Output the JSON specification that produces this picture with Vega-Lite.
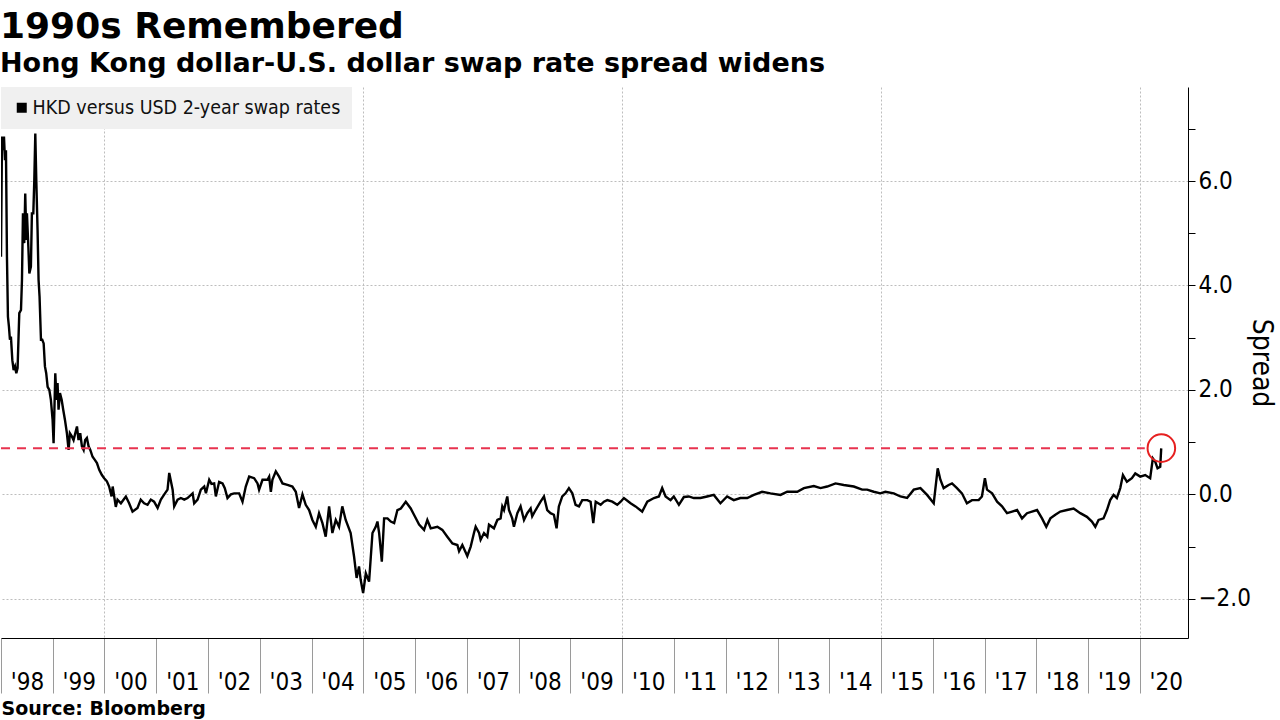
{
  "$schema": "https://vega.github.io/schema/vega-lite/v6.json",
  "width": 1280,
  "height": 720,
  "autosize": {"type": "fit", "contains": "padding"},
  "padding": {"left": 0, "top": 9, "right": 5, "bottom": 2},
  "background": "white",
  "config": {
    "view": {"stroke": null},
    "font": "DejaVu Sans Condensed"
  },
  "title": {
    "text": "1990s Remembered",
    "subtitle": "Hong Kong dollar-U.S. dollar swap rate spread widens",
    "anchor": "start",
    "frame": "bounds",
    "font": "DejaVu Sans",
    "fontSize": 36,
    "fontWeight": "bold",
    "color": "#000000",
    "subtitleFont": "DejaVu Sans",
    "subtitleFontSize": 27,
    "subtitleFontWeight": "bold",
    "subtitleColor": "#000000",
    "subtitlePadding": 5,
    "offset": 9
  },
  "datasets": {
    "series": [
      {"date": "1998-01-01", "spread": 4.55},
      {"date": "1998-01-08", "spread": 6.85},
      {"date": "1998-01-15", "spread": 6.59},
      {"date": "1998-01-22", "spread": 6.85},
      {"date": "1998-01-29", "spread": 6.40},
      {"date": "1998-02-05", "spread": 6.59},
      {"date": "1998-02-12", "spread": 4.55},
      {"date": "1998-02-19", "spread": 3.40},
      {"date": "1998-02-26", "spread": 3.21},
      {"date": "1998-03-05", "spread": 2.96},
      {"date": "1998-03-12", "spread": 3.02},
      {"date": "1998-03-22", "spread": 2.57},
      {"date": "1998-03-31", "spread": 2.38},
      {"date": "1998-04-10", "spread": 2.45},
      {"date": "1998-04-19", "spread": 2.32},
      {"date": "1998-04-28", "spread": 2.42},
      {"date": "1998-05-10", "spread": 3.47},
      {"date": "1998-05-22", "spread": 3.53},
      {"date": "1998-05-29", "spread": 4.11},
      {"date": "1998-06-05", "spread": 5.38},
      {"date": "1998-06-14", "spread": 4.81},
      {"date": "1998-06-21", "spread": 5.76},
      {"date": "1998-06-29", "spread": 4.87},
      {"date": "1998-07-03", "spread": 5.38},
      {"date": "1998-07-13", "spread": 4.74},
      {"date": "1998-07-20", "spread": 4.23},
      {"date": "1998-07-31", "spread": 4.36},
      {"date": "1998-08-07", "spread": 5.38},
      {"date": "1998-08-17", "spread": 5.38},
      {"date": "1998-08-24", "spread": 6.02},
      {"date": "1998-08-31", "spread": 6.91},
      {"date": "1998-09-07", "spread": 6.02},
      {"date": "1998-09-16", "spread": 5.06},
      {"date": "1998-09-23", "spread": 4.11},
      {"date": "1998-09-30", "spread": 3.79},
      {"date": "1998-10-10", "spread": 2.96},
      {"date": "1998-10-19", "spread": 2.96},
      {"date": "1998-10-29", "spread": 2.89},
      {"date": "1998-11-07", "spread": 2.45},
      {"date": "1998-11-16", "spread": 2.32},
      {"date": "1998-11-26", "spread": 2.06},
      {"date": "1998-12-08", "spread": 2.00},
      {"date": "1998-12-19", "spread": 1.81},
      {"date": "1998-12-31", "spread": 1.43},
      {"date": "1999-01-07", "spread": 0.98},
      {"date": "1999-01-19", "spread": 2.32},
      {"date": "1999-01-28", "spread": 1.81},
      {"date": "1999-02-04", "spread": 2.13},
      {"date": "1999-02-11", "spread": 1.62},
      {"date": "1999-02-21", "spread": 1.94},
      {"date": "1999-03-05", "spread": 1.81},
      {"date": "1999-03-16", "spread": 1.62},
      {"date": "1999-03-28", "spread": 1.43},
      {"date": "1999-04-11", "spread": 1.17},
      {"date": "1999-04-23", "spread": 0.85},
      {"date": "1999-05-02", "spread": 1.17},
      {"date": "1999-05-16", "spread": 1.11},
      {"date": "1999-05-28", "spread": 1.04},
      {"date": "1999-06-09", "spread": 1.17},
      {"date": "1999-06-21", "spread": 1.30},
      {"date": "1999-07-02", "spread": 1.04},
      {"date": "1999-07-14", "spread": 1.17},
      {"date": "1999-07-26", "spread": 0.92},
      {"date": "1999-08-07", "spread": 0.85},
      {"date": "1999-08-18", "spread": 1.04},
      {"date": "1999-08-30", "spread": 1.08},
      {"date": "1999-09-11", "spread": 0.92},
      {"date": "1999-09-23", "spread": 0.85},
      {"date": "1999-10-09", "spread": 0.72},
      {"date": "1999-10-25", "spread": 0.66},
      {"date": "1999-11-09", "spread": 0.60},
      {"date": "1999-11-25", "spread": 0.47},
      {"date": "1999-12-14", "spread": 0.37},
      {"date": "1999-12-30", "spread": 0.31},
      {"date": "2000-01-18", "spread": 0.25},
      {"date": "2000-02-03", "spread": 0.15},
      {"date": "2000-02-20", "spread": -0.04},
      {"date": "2000-02-28", "spread": 0.15},
      {"date": "2000-03-21", "spread": -0.24},
      {"date": "2000-04-02", "spread": -0.10},
      {"date": "2000-04-26", "spread": -0.17},
      {"date": "2000-05-31", "spread": -0.04},
      {"date": "2000-06-23", "spread": -0.17},
      {"date": "2000-07-17", "spread": -0.33},
      {"date": "2000-08-21", "spread": -0.26},
      {"date": "2000-09-13", "spread": -0.10},
      {"date": "2000-10-07", "spread": -0.17},
      {"date": "2000-10-31", "spread": -0.20},
      {"date": "2000-11-23", "spread": -0.10},
      {"date": "2000-12-16", "spread": -0.14},
      {"date": "2001-01-10", "spread": -0.26},
      {"date": "2001-02-02", "spread": -0.10},
      {"date": "2001-02-26", "spread": 0.00},
      {"date": "2001-03-21", "spread": 0.09},
      {"date": "2001-04-02", "spread": 0.41},
      {"date": "2001-04-26", "spread": 0.09},
      {"date": "2001-05-07", "spread": -0.23},
      {"date": "2001-05-31", "spread": -0.10},
      {"date": "2001-06-23", "spread": -0.07},
      {"date": "2001-07-17", "spread": -0.10},
      {"date": "2001-08-09", "spread": -0.07},
      {"date": "2001-09-14", "spread": 0.02},
      {"date": "2001-09-25", "spread": -0.17},
      {"date": "2001-10-19", "spread": -0.10},
      {"date": "2001-11-11", "spread": 0.09},
      {"date": "2001-12-05", "spread": 0.15},
      {"date": "2001-12-17", "spread": 0.02},
      {"date": "2002-01-09", "spread": 0.28},
      {"date": "2002-01-25", "spread": 0.20},
      {"date": "2002-02-13", "spread": 0.21},
      {"date": "2002-02-25", "spread": -0.04},
      {"date": "2002-03-20", "spread": 0.24},
      {"date": "2002-04-13", "spread": 0.21},
      {"date": "2002-04-29", "spread": 0.12},
      {"date": "2002-05-18", "spread": -0.07},
      {"date": "2002-06-11", "spread": 0.00},
      {"date": "2002-07-04", "spread": 0.02},
      {"date": "2002-08-08", "spread": 0.02},
      {"date": "2002-09-01", "spread": -0.14},
      {"date": "2002-09-24", "spread": 0.15},
      {"date": "2002-10-18", "spread": 0.34},
      {"date": "2002-11-22", "spread": 0.31},
      {"date": "2002-12-16", "spread": 0.21},
      {"date": "2002-12-27", "spread": 0.09},
      {"date": "2003-01-20", "spread": 0.28},
      {"date": "2003-02-24", "spread": 0.28},
      {"date": "2003-03-08", "spread": 0.34},
      {"date": "2003-03-20", "spread": 0.05},
      {"date": "2003-03-31", "spread": 0.28},
      {"date": "2003-04-24", "spread": 0.44},
      {"date": "2003-05-17", "spread": 0.34},
      {"date": "2003-06-10", "spread": 0.21},
      {"date": "2003-07-15", "spread": 0.18},
      {"date": "2003-08-19", "spread": 0.15},
      {"date": "2003-09-12", "spread": 0.05},
      {"date": "2003-10-05", "spread": -0.26},
      {"date": "2003-10-29", "spread": 0.00},
      {"date": "2003-11-21", "spread": -0.20},
      {"date": "2003-12-15", "spread": -0.30},
      {"date": "2004-01-07", "spread": -0.49},
      {"date": "2004-01-31", "spread": -0.62},
      {"date": "2004-02-23", "spread": -0.36},
      {"date": "2004-03-18", "spread": -0.55},
      {"date": "2004-04-10", "spread": -0.81},
      {"date": "2004-05-04", "spread": -0.23},
      {"date": "2004-05-27", "spread": -0.74},
      {"date": "2004-06-20", "spread": -0.49},
      {"date": "2004-07-13", "spread": -0.62},
      {"date": "2004-08-05", "spread": -0.23},
      {"date": "2004-08-29", "spread": -0.49},
      {"date": "2004-10-03", "spread": -0.74},
      {"date": "2004-10-27", "spread": -1.19},
      {"date": "2004-11-14", "spread": -1.60},
      {"date": "2004-12-01", "spread": -1.38},
      {"date": "2004-12-13", "spread": -1.64},
      {"date": "2004-12-30", "spread": -1.89},
      {"date": "2005-01-18", "spread": -1.51},
      {"date": "2005-02-10", "spread": -1.67},
      {"date": "2005-03-06", "spread": -0.74},
      {"date": "2005-03-29", "spread": -0.62},
      {"date": "2005-04-10", "spread": -0.52},
      {"date": "2005-04-22", "spread": -0.74},
      {"date": "2005-05-11", "spread": -1.29},
      {"date": "2005-05-27", "spread": -0.46},
      {"date": "2005-06-20", "spread": -0.46},
      {"date": "2005-07-13", "spread": -0.52},
      {"date": "2005-08-06", "spread": -0.55},
      {"date": "2005-08-29", "spread": -0.30},
      {"date": "2005-09-22", "spread": -0.27},
      {"date": "2005-10-27", "spread": -0.14},
      {"date": "2005-12-01", "spread": -0.27},
      {"date": "2005-12-24", "spread": -0.39},
      {"date": "2006-01-29", "spread": -0.58},
      {"date": "2006-03-05", "spread": -0.68},
      {"date": "2006-03-28", "spread": -0.49},
      {"date": "2006-04-21", "spread": -0.65},
      {"date": "2006-06-07", "spread": -0.62},
      {"date": "2006-07-12", "spread": -0.68},
      {"date": "2006-08-16", "spread": -0.81},
      {"date": "2006-09-21", "spread": -0.94},
      {"date": "2006-10-26", "spread": -0.97},
      {"date": "2006-11-07", "spread": -1.09},
      {"date": "2006-11-30", "spread": -0.97},
      {"date": "2007-01-04", "spread": -1.18},
      {"date": "2007-01-28", "spread": -1.00},
      {"date": "2007-02-20", "spread": -0.74},
      {"date": "2007-03-04", "spread": -0.62},
      {"date": "2007-03-28", "spread": -0.74},
      {"date": "2007-04-08", "spread": -0.87},
      {"date": "2007-05-02", "spread": -0.74},
      {"date": "2007-05-25", "spread": -0.81},
      {"date": "2007-06-06", "spread": -0.58},
      {"date": "2007-07-11", "spread": -0.65},
      {"date": "2007-08-04", "spread": -0.49},
      {"date": "2007-08-27", "spread": -0.46},
      {"date": "2007-09-08", "spread": -0.23},
      {"date": "2007-09-20", "spread": -0.30},
      {"date": "2007-10-13", "spread": -0.04},
      {"date": "2007-10-25", "spread": -0.30},
      {"date": "2007-11-17", "spread": -0.46},
      {"date": "2007-11-29", "spread": -0.62},
      {"date": "2007-12-23", "spread": -0.36},
      {"date": "2008-01-15", "spread": -0.23},
      {"date": "2008-02-08", "spread": -0.49},
      {"date": "2008-03-02", "spread": -0.36},
      {"date": "2008-03-26", "spread": -0.27},
      {"date": "2008-04-06", "spread": -0.42},
      {"date": "2008-04-30", "spread": -0.30},
      {"date": "2008-06-04", "spread": -0.14},
      {"date": "2008-06-28", "spread": -0.04},
      {"date": "2008-07-21", "spread": -0.30},
      {"date": "2008-08-13", "spread": -0.36},
      {"date": "2008-09-06", "spread": -0.39},
      {"date": "2008-09-25", "spread": -0.65},
      {"date": "2008-10-11", "spread": -0.23},
      {"date": "2008-11-04", "spread": -0.04},
      {"date": "2008-11-27", "spread": 0.02},
      {"date": "2008-12-21", "spread": 0.12},
      {"date": "2009-01-14", "spread": 0.02},
      {"date": "2009-02-06", "spread": -0.20},
      {"date": "2009-03-02", "spread": -0.23},
      {"date": "2009-03-25", "spread": -0.11},
      {"date": "2009-04-30", "spread": -0.11},
      {"date": "2009-05-23", "spread": -0.14},
      {"date": "2009-06-11", "spread": -0.55},
      {"date": "2009-06-28", "spread": -0.14},
      {"date": "2009-08-02", "spread": -0.20},
      {"date": "2009-08-25", "spread": -0.14},
      {"date": "2009-09-18", "spread": -0.11},
      {"date": "2009-10-23", "spread": -0.14},
      {"date": "2009-11-27", "spread": -0.20},
      {"date": "2009-12-21", "spread": -0.14},
      {"date": "2010-01-13", "spread": -0.07},
      {"date": "2010-03-01", "spread": -0.17},
      {"date": "2010-04-05", "spread": -0.23},
      {"date": "2010-05-22", "spread": -0.33},
      {"date": "2010-06-27", "spread": -0.14},
      {"date": "2010-08-13", "spread": -0.07},
      {"date": "2010-09-17", "spread": -0.04},
      {"date": "2010-10-10", "spread": 0.12},
      {"date": "2010-11-03", "spread": -0.04},
      {"date": "2010-12-08", "spread": -0.11},
      {"date": "2010-12-31", "spread": -0.04},
      {"date": "2011-02-05", "spread": -0.20},
      {"date": "2011-03-12", "spread": -0.05},
      {"date": "2011-04-16", "spread": -0.04},
      {"date": "2011-05-21", "spread": -0.07},
      {"date": "2011-07-07", "spread": -0.07},
      {"date": "2011-08-23", "spread": -0.04},
      {"date": "2011-10-09", "spread": -0.01},
      {"date": "2011-11-25", "spread": -0.17},
      {"date": "2012-01-11", "spread": -0.04},
      {"date": "2012-02-27", "spread": -0.11},
      {"date": "2012-04-14", "spread": -0.07},
      {"date": "2012-06-01", "spread": -0.07},
      {"date": "2012-07-18", "spread": -0.01},
      {"date": "2012-09-14", "spread": 0.05},
      {"date": "2012-11-12", "spread": 0.02},
      {"date": "2013-01-22", "spread": -0.01},
      {"date": "2013-03-10", "spread": 0.05},
      {"date": "2013-05-20", "spread": 0.05},
      {"date": "2013-07-06", "spread": 0.12},
      {"date": "2013-09-14", "spread": 0.16},
      {"date": "2013-10-31", "spread": 0.12},
      {"date": "2013-12-17", "spread": 0.15},
      {"date": "2014-02-14", "spread": 0.21},
      {"date": "2014-04-13", "spread": 0.18},
      {"date": "2014-06-23", "spread": 0.15},
      {"date": "2014-08-21", "spread": 0.09},
      {"date": "2014-09-25", "spread": 0.09},
      {"date": "2014-11-11", "spread": 0.05},
      {"date": "2014-12-28", "spread": 0.02},
      {"date": "2015-02-01", "spread": 0.05},
      {"date": "2015-04-01", "spread": 0.02},
      {"date": "2015-05-18", "spread": -0.04},
      {"date": "2015-07-04", "spread": -0.07},
      {"date": "2015-08-20", "spread": 0.09},
      {"date": "2015-10-06", "spread": 0.12},
      {"date": "2015-11-22", "spread": -0.01},
      {"date": "2016-01-08", "spread": -0.17},
      {"date": "2016-02-05", "spread": 0.50},
      {"date": "2016-02-24", "spread": 0.28},
      {"date": "2016-03-18", "spread": 0.12},
      {"date": "2016-04-22", "spread": 0.18},
      {"date": "2016-05-16", "spread": 0.21},
      {"date": "2016-06-20", "spread": 0.12},
      {"date": "2016-07-25", "spread": 0.02},
      {"date": "2016-08-29", "spread": -0.17},
      {"date": "2016-10-04", "spread": -0.11},
      {"date": "2016-11-20", "spread": -0.11},
      {"date": "2016-12-13", "spread": -0.04},
      {"date": "2017-01-03", "spread": 0.31},
      {"date": "2017-01-18", "spread": 0.09},
      {"date": "2017-02-23", "spread": 0.02},
      {"date": "2017-03-30", "spread": -0.14},
      {"date": "2017-05-04", "spread": -0.23},
      {"date": "2017-06-08", "spread": -0.36},
      {"date": "2017-07-14", "spread": -0.33},
      {"date": "2017-08-18", "spread": -0.30},
      {"date": "2017-09-22", "spread": -0.46},
      {"date": "2017-10-27", "spread": -0.36},
      {"date": "2017-12-01", "spread": -0.33},
      {"date": "2018-01-06", "spread": -0.30},
      {"date": "2018-02-10", "spread": -0.46},
      {"date": "2018-03-12", "spread": -0.62},
      {"date": "2018-04-10", "spread": -0.46},
      {"date": "2018-05-15", "spread": -0.39},
      {"date": "2018-06-19", "spread": -0.33},
      {"date": "2018-08-05", "spread": -0.30},
      {"date": "2018-09-21", "spread": -0.27},
      {"date": "2018-11-07", "spread": -0.36},
      {"date": "2018-12-24", "spread": -0.43},
      {"date": "2019-01-28", "spread": -0.52},
      {"date": "2019-02-21", "spread": -0.62},
      {"date": "2019-03-16", "spread": -0.49},
      {"date": "2019-04-20", "spread": -0.46},
      {"date": "2019-05-14", "spread": -0.30},
      {"date": "2019-06-06", "spread": -0.11},
      {"date": "2019-06-30", "spread": -0.01},
      {"date": "2019-07-23", "spread": -0.07},
      {"date": "2019-08-16", "spread": 0.12},
      {"date": "2019-09-04", "spread": 0.37},
      {"date": "2019-10-02", "spread": 0.24},
      {"date": "2019-11-06", "spread": 0.31},
      {"date": "2019-11-30", "spread": 0.40},
      {"date": "2020-01-04", "spread": 0.34},
      {"date": "2020-02-08", "spread": 0.37},
      {"date": "2020-03-14", "spread": 0.31},
      {"date": "2020-04-02", "spread": 0.69},
      {"date": "2020-04-18", "spread": 0.63},
      {"date": "2020-05-05", "spread": 0.50},
      {"date": "2020-05-24", "spread": 0.53},
      {"date": "2020-05-31", "spread": 0.88}
    ],
    "threshold": [
      {"start": "1998-01-01", "end": "2020-02-05", "level": 0.885}
    ],
    "highlight": [
      {"date": "2020-06-01", "spread": 0.885}
    ]
  },
  "layer": [
    {
      "data": {"name": "series"},
      "mark": {"type": "line", "strokeWidth": 2.4, "clip": true},
      "encoding": {
        "x": {
          "field": "date",
          "type": "temporal",
          "scale": {
            "type": "utc",
            "domain": [
              {"year": 1998, "month": 1, "date": 1, "utc": true},
              {"year": 2020, "month": 12, "date": 6, "utc": true}
            ]
          },
          "axis": {
            "tickCount": {"interval": "year", "step": 1},
            "format": "'%y",
            "labelOffset": 26,
            "labelFlush": false,
            "labelOverlap": false,
            "labelFontSize": 24,
            "labelColor": "#000000",
            "labelPadding": -23,
            "tickSize": 55,
            "tickColor": "#9a9a9a",
            "tickWidth": 1,
            "domainColor": "#000000",
            "domainWidth": 1,
            "grid": true,
            "gridColor": "#bdbdbd",
            "gridDash": [2, 2],
            "gridWidth": 1,
            "gridOpacity": {"condition": {"test": "utcyear(datum.value) % 5 !== 0", "value": 0}, "value": 1},
            "title": "Source: Bloomberg",
            "titleAnchor": "start",
            "titleAlign": "left",
            "titleFont": "DejaVu Sans",
            "titleFontSize": 19,
            "titleFontWeight": "bold",
            "titleColor": "#000000",
            "titlePadding": 5
          }
        },
        "y": {
          "field": "spread",
          "type": "quantitative",
          "scale": {"domain": [-2.75, 7.8], "nice": false, "zero": false},
          "axis": {
            "orient": "right",
            "values": [-2, -1, 0, 1, 2, 3, 4, 5, 6, 7],
            "labelExpr": "datum.value % 2 === 0 ? format(datum.value, '.1f') : ''",
            "labelFontSize": 24,
            "labelColor": "#000000",
            "labelPadding": 3,
            "tickSize": 7,
            "tickColor": "#000000",
            "domainColor": "#000000",
            "grid": true,
            "gridColor": "#bdbdbd",
            "gridDash": [2, 2],
            "gridOpacity": {"condition": {"test": "datum.value % 2 !== 0", "value": 0}, "value": 1},
            "title": "Spread",
            "titleFontSize": 28,
            "titleFontWeight": "normal",
            "titleColor": "#000000",
            "titlePadding": -4
          }
        },
        "color": {
          "datum": "HKD versus USD 2-year swap rates",
          "type": "nominal",
          "scale": {"range": ["#000000"]},
          "legend": {
            "title": null,
            "orient": "top-left",
            "offset": 0,
            "fillColor": "#f0f0f0",
            "padding": 11,
            "labelFontSize": 19.5,
            "labelOffset": 1,
            "labelLimit": 600,
            "labelColor": "#111111",
            "symbolType": "square",
            "symbolSize": 100,
            "symbolFillColor": "#000000",
            "symbolStrokeColor": "#000000",
            "symbolStrokeWidth": 0
          }
        }
      }
    },
    {
      "data": {"name": "threshold"},
      "mark": {"type": "rule", "color": "#e8334f", "strokeWidth": 2, "strokeDash": [9, 7]},
      "encoding": {
        "x": {"field": "start", "type": "temporal"},
        "x2": {"field": "end"},
        "y": {"field": "level", "type": "quantitative"}
      }
    },
    {
      "data": {"name": "highlight"},
      "mark": {"type": "point", "shape": "circle", "filled": false, "color": "#e62020", "strokeWidth": 2, "size": 760, "opacity": 1},
      "encoding": {
        "x": {"field": "date", "type": "temporal"},
        "y": {"field": "spread", "type": "quantitative"}
      }
    }
  ]
}
